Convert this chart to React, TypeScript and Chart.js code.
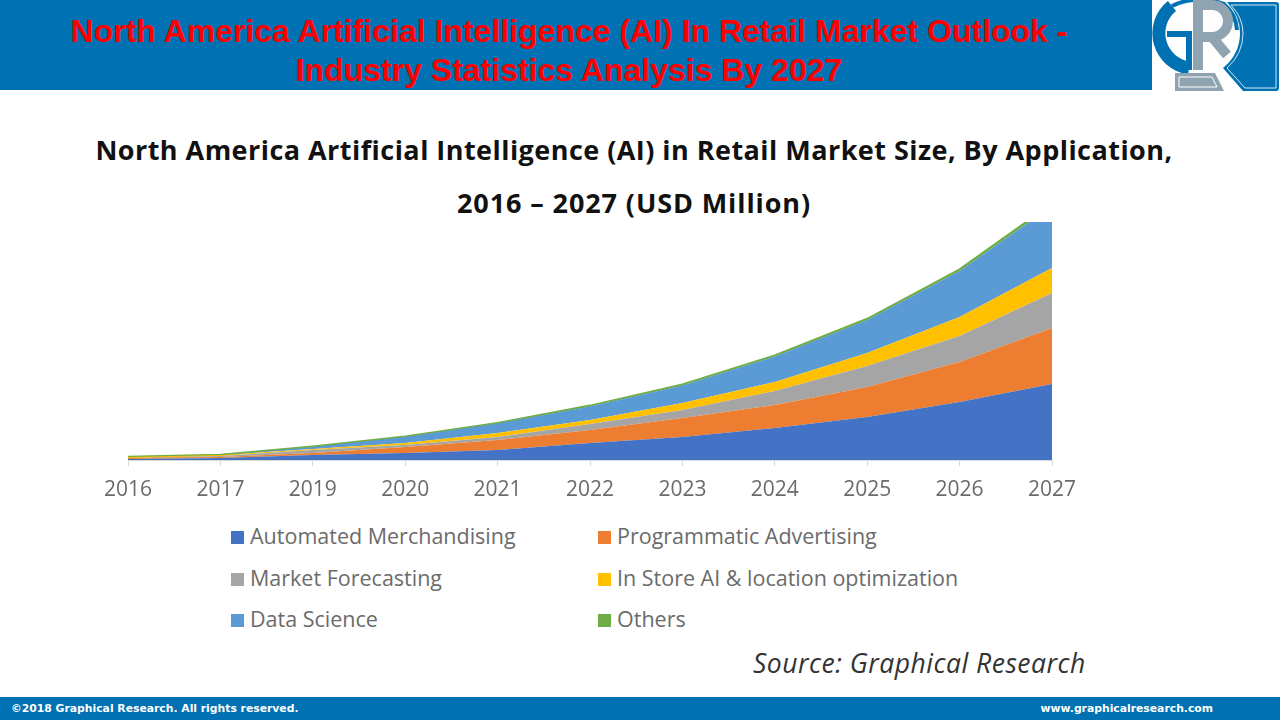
import React, { useEffect, useRef } from 'react';
import { Chart, registerables } from 'chart.js';

Chart.register(...registerables);

const years = ['2016', '2017', '2019', '2020', '2021', '2022', '2023', '2024', '2025', '2026', '2027'];

const automated = [5, 10, 25, 35, 50, 85, 115, 160, 215, 290, 380];
const programmatic = [5, 5, 10, 30, 50, 65, 95, 115, 150, 200, 280];
const forecasting = [0, 5, 15, 10, 15, 30, 40, 70, 105, 130, 175];
const inStore = [5, 5, 5, 10, 20, 20, 35, 45, 65, 95, 125];
const dataScience = [0, 0, 10, 30, 47, 68, 88, 128, 165, 230, 310];
const others = [1, 1, 2, 2, 3, 4, 5, 5, 6, 8, 12];

const seriesNames = [
  'Automated Merchandising',
  'Programmatic Advertising',
  'Market Forecasting',
  'In Store AI & location optimization',
  'Data Science',
  'Others',
];
const seriesColors = ['#4472c4', '#ed7d31', '#a5a5a5', '#ffc000', '#5b9bd5', '#70ad47'];
const seriesValues = [automated, programmatic, forecasting, inStore, dataScience, others];

const yMax = 1190;

const FONT = '"Open Sans", sans-serif';
const BLUE = '#0071b3';

function Logo() {
  return (
    <svg width={128} height={93} viewBox="0 0 128 93" style={{ position: 'absolute', left: 1152, top: 0, background: '#fff' }}>
      <path d="M75 2 Q88 16 88 33 Q88 54 71 68 L91 91 H124 Q127 91 127 88 V5 Q127 2 124 2 Z" fill={BLUE} />
      <path d="M79 5 Q91 18 91 33 Q91 54 75 68 L93 88 H124 V5 Z" fill="none" stroke="#cfe6f3" strokeWidth={1} />
      <path d="M37 68 A35 35 0 0 1 20 6" fill="none" stroke={BLUE} strokeWidth={13} />
      <path d="M20 6 Q45 -6 72 4 Q84 14 85 30" fill="none" stroke={BLUE} strokeWidth={4} />
      <path d="M15 34 H37 V70" fill="none" stroke={BLUE} strokeWidth={6} />
      <path d="M46 70 V5 H60 A16 16 0 0 1 60 37 H48 M60 37 L75 55" fill="none" stroke="#8fa3b1" strokeWidth={10} />
      <path d="M23 73 H63 L72 91 H23 Z" fill="#8fa3b1" />
      <path d="M27 77 H60 L65 87 H27 Z" fill="none" stroke="#fff" strokeWidth={1} />
    </svg>
  );
}

export default function App() {
  const chartRef = useRef<HTMLCanvasElement>(null);

  useEffect(() => {
    if (!chartRef.current) return;
    document.body.style.margin = '0';

    const chart = new Chart(chartRef.current, {
      type: 'line',
      data: {
        labels: years,
        datasets: seriesNames.map((name, i) => ({
          label: name,
          data: seriesValues[i],
          backgroundColor: seriesColors[i],
          borderColor: seriesColors[i],
          borderWidth: i === 5 ? 2 : 0,
          fill: i === 0 ? 'origin' : '-1',
          pointRadius: 0,
          tension: 0,
        })),
      },
      options: {
        responsive: false,
        animation: false,
        layout: { padding: { left: 128, right: 228, top: 22, bottom: 20 } },
        plugins: { legend: { display: false }, title: { display: false }, tooltip: { enabled: false } },
        scales: {
          x: {
            offset: false,
            afterFit: (scale: any) => {
              scale.height = 40;
            },
            grid: { drawOnChartArea: false, color: '#d9d9d9', tickLength: 6 },
            border: { color: '#d9d9d9', width: 1 },
            ticks: {
              autoSkip: false,
              maxRotation: 0,
              color: '#6b6b6b',
              padding: 11,
              font: { family: FONT, size: 21 },
            },
          },
          y: { display: false, stacked: true, min: 0, max: yMax },
        },
      },
    });

    return () => {
      chart.destroy();
    };
  }, []);

  return (
    <div style={{ position: 'relative', width: 1280, height: 720, overflow: 'hidden', background: '#fff' }}>
      <div
        style={{
          position: 'absolute', left: 0, top: 0, width: 1152, height: 90, background: BLUE, color: '#ff0000',
          fontFamily: '"Liberation Sans", sans-serif', fontWeight: 700, fontSize: 32, lineHeight: '39px',
          textAlign: 'center', paddingTop: 12, boxSizing: 'border-box', paddingRight: 14, whiteSpace: 'nowrap',
        }}
      >
        North America Artificial Intelligence (AI) In Retail Market Outlook -<br />
        Industry Statistics Analysis By 2027
      </div>
      <Logo />

      <div
        style={{
          position: 'absolute', left: 0, top: 123, width: 1268, textAlign: 'center', color: '#111',
          fontFamily: FONT, fontWeight: 700, fontSize: 27, letterSpacing: 0.46, lineHeight: '53px', whiteSpace: 'nowrap',
        }}
      >
        North America Artificial Intelligence (AI) in Retail Market Size, By Application,<br />
        <span style={{ letterSpacing: 0.9 }}>2016 – 2027 (USD Million)</span>
      </div>

      <canvas ref={chartRef} width={1280} height={320} style={{ position: 'absolute', left: 0, top: 200 }} />

      {seriesNames.map((name, i) => {
        const left = i % 2 === 0 ? 231 : 598;
        const top = [535, 577, 618][Math.floor(i / 2)];
        return (
          <div key={name} style={{ position: 'absolute', left, top: top - 15, height: 30, display: 'flex', alignItems: 'center', whiteSpace: 'nowrap' }}>
            <span style={{ width: 13, height: 13, background: seriesColors[i], marginRight: 6, marginTop: 4 }} />
            <span style={{ fontFamily: FONT, fontSize: 21.5, color: '#6b6b6b' }}>{name}</span>
          </div>
        );
      })}

      <div style={{ position: 'absolute', left: 753, top: 645, fontFamily: FONT, fontStyle: 'italic', fontSize: 26.5, letterSpacing: 0.5, color: '#333', whiteSpace: 'nowrap' }}>
        Source: Graphical Research
      </div>

      <div style={{ position: 'absolute', left: 0, top: 697, width: 1280, height: 23, background: BLUE, color: '#fff', fontFamily: '"DejaVu Sans", sans-serif', fontWeight: 700, fontSize: 10.8, lineHeight: '23px' }}>
        <span style={{ position: 'absolute', left: 11 }}>©2018 Graphical Research. All rights reserved.</span>
        <span style={{ position: 'absolute', right: 67 }}>www.graphicalresearch.com</span>
      </div>
    </div>
  );
}
